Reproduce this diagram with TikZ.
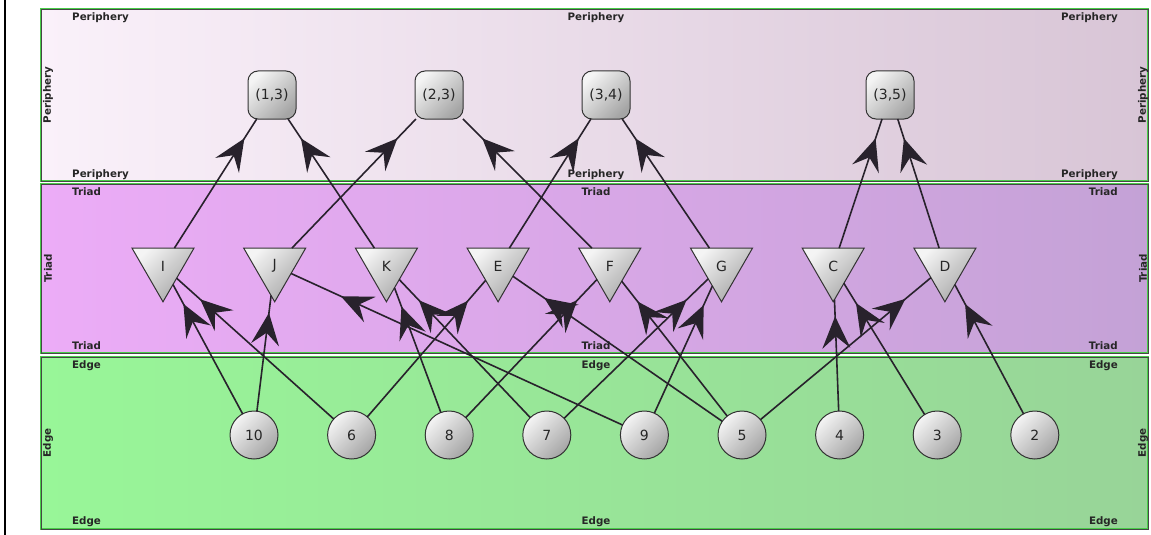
\documentclass[tikz,border=0pt]{standalone}
\usepackage{fontspec}
\setmainfont{DejaVu Sans}
\usetikzlibrary{shapes.geometric,arrows.meta,decorations.markings}
\definecolor{perL}{RGB}{250,241,250}
\definecolor{perR}{RGB}{216,197,214}
\definecolor{triL}{RGB}{236,172,247}
\definecolor{triR}{RGB}{196,162,214}
\definecolor{edgL}{RGB}{152,246,152}
\definecolor{edgR}{RGB}{152,212,152}
\definecolor{bandgreen}{RGB}{72,205,72}
\definecolor{banddark}{RGB}{70,70,70}
\definecolor{linecol}{RGB}{40,34,44}
\definecolor{nodeL}{RGB}{244,244,244}
\definecolor{nodeD}{RGB}{165,165,165}
\tikzset{
  bandbox/.style={line width=2.2pt, draw=bandgreen},
  bandedge/.style={line width=0.8pt, draw=banddark},
  bandlab/.style={font=\bfseries\fontsize{10.3}{12}\selectfont, text=black!85, inner sep=0pt},
  shadednode/.style={draw=black!80, line width=1pt, inner sep=0pt, outer sep=0pt,
     top color=nodeL, bottom color=nodeD, shading angle=45,
     font=\fontsize{14}{16}\selectfont, text=black!85},
  pnode/.style={shadednode, rectangle, rounded corners=10pt, minimum size=48pt},
  tnode/.style={shadednode, regular polygon, regular polygon sides=3,
     shape border rotate=180, minimum size=71.6pt},
  cnode/.style={shadednode, circle, minimum size=48pt},
  conn/.style={draw=linecol, line width=1.6pt, postaction={decorate},
     decoration={markings, mark=at position 0.85 with
       {\arrow{Stealth[length=32pt,width=28pt,inset=12pt]}}}}
}
\begin{document}
\begin{tikzpicture}[x=1pt,y=-1pt]
\useasboundingbox (0,0) rectangle (1151,535);
\fill[white] (0,0) rectangle (1151,535);
\fill[black] (3.5,0) rectangle (6,535);
% bands
\shade[left color=perL, right color=perR] (41,9) rectangle (1148,181);
\draw[bandbox] (41,9) rectangle (1148,181);
\draw[bandedge] (41,9) rectangle (1148,181);
\shade[left color=triL, right color=triR] (41,184) rectangle (1148,353);
\draw[bandbox] (41,184) rectangle (1148,353);
\draw[bandedge] (41,184) rectangle (1148,353);
\shade[left color=edgL, right color=edgR] (41,357) rectangle (1148,529);
\draw[bandbox] (41,357) rectangle (1148,529);
\draw[bandedge] (41,357) rectangle (1148,529);
% band labels
\node[bandlab, anchor=base west] (lp1) at (72,21) {Periphery};
\node[bandlab, anchor=base] (lp2) at (596,21) {Periphery};
\node[bandlab, anchor=base east] (lp3) at (1118,21) {Periphery};
\node[bandlab, anchor=base west] (lp4) at (72,177) {Periphery};
\node[bandlab, anchor=base] (lp5) at (596,177) {Periphery};
\node[bandlab, anchor=base east] (lp6) at (1118,177) {Periphery};
\node[bandlab, rotate=90] (lp7) at (48,95) {Periphery};
\node[bandlab, rotate=90] (lp8) at (1143,95) {Periphery};
\node[bandlab, anchor=base west] (lt1) at (72,195) {Triad};
\node[bandlab, anchor=base] (lt2) at (596,195) {Triad};
\node[bandlab, anchor=base east] (lt3) at (1118,195) {Triad};
\node[bandlab, anchor=base west] (lt4) at (72,349) {Triad};
\node[bandlab, anchor=base] (lt5) at (596,349) {Triad};
\node[bandlab, anchor=base east] (lt6) at (1118,349) {Triad};
\node[bandlab, rotate=90] (lt7) at (48,268.5) {Triad};
\node[bandlab, rotate=90] (lt8) at (1143,268.5) {Triad};
\node[bandlab, anchor=base west] (le1) at (72,368) {Edge};
\node[bandlab, anchor=base] (le2) at (596,368) {Edge};
\node[bandlab, anchor=base east] (le3) at (1118,368) {Edge};
\node[bandlab, anchor=base west] (le4) at (72,524) {Edge};
\node[bandlab, anchor=base] (le5) at (596,524) {Edge};
\node[bandlab, anchor=base east] (le6) at (1118,524) {Edge};
\node[bandlab, rotate=90] (le7) at (48,443) {Edge};
\node[bandlab, rotate=90] (le8) at (1143,443) {Edge};
% periphery nodes
\node[pnode] (p13) at (272,95) {(1,3)};
\node[pnode] (p23) at (439,95) {(2,3)};
\node[pnode] (p34) at (606,95) {(3,4)};
\node[pnode] (p35) at (890,95) {(3,5)};
% triad nodes
\node[tnode] (I) at (163,266) {I};
\node[tnode] (J) at (274.7,266) {J};
\node[tnode] (K) at (386.4,266) {K};
\node[tnode] (E) at (498.1,266) {E};
\node[tnode] (F) at (609.8,266) {F};
\node[tnode] (G) at (721.5,266) {G};
\node[tnode] (C) at (833.2,266) {C};
\node[tnode] (D) at (944.9,266) {D};
% edge nodes
\node[cnode] (n10) at (254,435) {10};
\node[cnode] (n6) at (351.6,435) {6};
\node[cnode] (n8) at (449.2,435) {8};
\node[cnode] (n7) at (546.8,435) {7};
\node[cnode] (n9) at (644.4,435) {9};
\node[cnode] (n5) at (742,435) {5};
\node[cnode] (n4) at (839.6,435) {4};
\node[cnode] (n3) at (937.2,435) {3};
\node[cnode] (n2) at (1034.8,435) {2};
% triad -> periphery
\draw[conn] (I) -- (p13);
\draw[conn] (K) -- (p13);
\draw[conn] (J) -- (p23);
\draw[conn] (F) -- (p23);
\draw[conn] (E) -- (p34);
\draw[conn] (G) -- (p34);
\draw[conn] (C) -- (p35);
\draw[conn] (D) -- (p35);
% edge -> triad
\draw[conn] (n10) -- (I);
\draw[conn] (n10) -- (J);
\draw[conn] (n6) -- (I);
\draw[conn] (n6) -- (E);
\draw[conn] (n8) -- (K);
\draw[conn] (n8) -- (F);
\draw[conn] (n7) -- (K);
\draw[conn] (n7) -- (G);
\draw[conn] (n9) -- (J);
\draw[conn] (n9) -- (G);
\draw[conn] (n5) -- (E);
\draw[conn] (n5) -- (F);
\draw[conn] (n5) -- (D);
\draw[conn] (n4) -- (C);
\draw[conn] (n3) -- (C);
\draw[conn] (n2) -- (D);
\end{tikzpicture}
\end{document}
